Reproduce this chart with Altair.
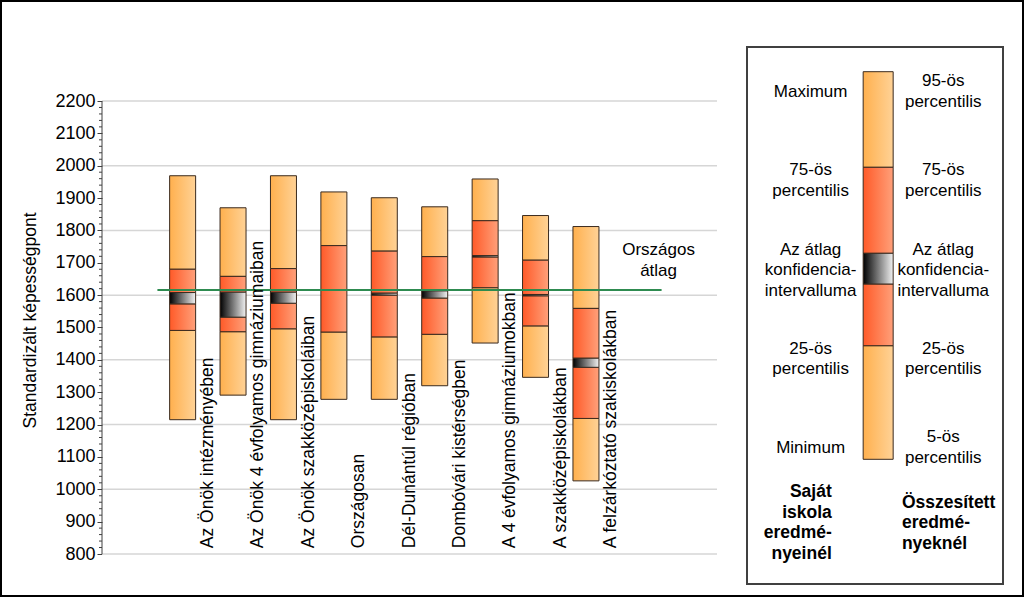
import altair as alt
import pandas as pd

# ---------------- data ----------------
categories = [
    "Az Önök intézményében",
    "Az Önök 4 évfolyamos gimnáziumaiban",
    "Az Önök szakközépiskoláiban",
    "Országosan",
    "Dél-Dunántúl régióban",
    "Dombóvári kistérségben",
    "A 4 évfolyamos gimnáziumokban",
    "A szakközépiskolákban",
    "A felzárkóztató szakiskolákban",
]
mins = [1215, 1291, 1215, 1278, 1278, 1320, 1452, 1346, 1026]
p25s = [1491, 1487, 1496, 1486, 1471, 1479, 1623, 1505, 1219]
ci_lo = [1573, 1532, 1575, 1615, 1600, 1591, 1718, 1598, 1377]
ci_hi = [1608, 1609, 1609, 1617, 1606, 1613, 1722, 1602, 1405]
p75s = [1680, 1658, 1682, 1753, 1736, 1719, 1830, 1708, 1559]
maxs = [1969, 1870, 1969, 1919, 1901, 1873, 1959, 1846, 1812]
national_avg = 1616
avg_label = "Országos\nátlag"

y_title = "Standardizált képességpont"
y_label_values = list(range(800, 2201, 100))
y_grid_values = list(range(800, 2201, 200))
y_minor_values = [v for v in range(800, 2201, 20) if v % 100]

# legend content
legend_kinds = ["light", "dark", "ci", "dark", "light"]
legend_edges = [24.7, 120.3, 206.3, 237.0, 298.7, 412.3]
legend_left_texts = ["Maximum", "75-ös\npercentilis", "Az átlag\nkonfidencia-\nintervalluma",
                     "25-ös\npercentilis", "Minimum"]
legend_right_texts = ["95-ös\npercentilis", "75-ös\npercentilis", "Az átlag\nkonfidencia-\nintervalluma",
                      "25-ös\npercentilis", "5-ös\npercentilis"]
legend_text_rows = [44.7, 133.7, 223.0, 312.0, 400.5]
legend_bold_left = "Saját\niskola\neredmé-\nnyeinél"
legend_bold_right = "Összesített\neredmé-\nnyeknél"

FONT = "Liberation Sans"
LINE_H = 20.5
LINE_H_BOLD = 20.7


def first_line_row(text, center, lh):
    # Vega anchors a multi-line block at its first line; shift so the block is centred
    return center - (text.count("\n")) * lh / 2


# ---------------- tables ----------------
rows = []
for i, c in enumerate(categories):
    pos = i + 1.5
    bounds = [mins[i], p25s[i], ci_lo[i], ci_hi[i], p75s[i], maxs[i]]
    kinds = ["light", "dark", "ci", "dark", "light"]
    for k in range(5):
        rows.append({"cat": c, "pos": pos, "lo": bounds[k], "hi": bounds[k + 1], "kind": kinds[k]})
seg = pd.DataFrame(rows)
cat_df = pd.DataFrame({"cat": categories, "lpos": [i + 2 for i in range(len(categories))]})
avg_df = pd.DataFrame({"avg": [national_avg], "label": [avg_label]})
minor_df = pd.DataFrame({"v": y_minor_values})
grid_df = pd.DataFrame({"g": y_grid_values})


def grad(c0, c1):
    return alt.LinearGradient(
        gradient="linear", x1=0, x2=1, y1=0, y2=0,
        stops=[alt.GradientStop(color=c0, offset=0), alt.GradientStop(color=c1, offset=1)],
    )


fills = {
    "light": grad("#FFB04E", "#FFD296"),
    "dark": grad("#FF5A28", "#FFA07A"),
    "ci": grad("#000000", "#F2F2F2"),
}
STROKE = "#3A2A1E"

# ---------------- main chart ----------------
W, H = 615, 507
px_per_unit = 453 / 1400
y_top = 2200 + 54 / px_per_unit
yscale = alt.Scale(domain=[800, y_top], nice=False, zero=False)
xscale = alt.Scale(domain=[0, 12], nice=False, zero=False)

yaxis = alt.Axis(
    values=y_label_values, title=y_title, format="d",
    grid=False, domain=False, ticks=True, tickSize=5, tickColor="#404040", tickWidth=1,
    labelFontSize=18, labelColor="#000000", labelPadding=2, labelFont=FONT, labelOverlap=False,
    titleFontSize=17.5, titleFontWeight="normal", titleColor="#000000", titleFont=FONT,
    titleX=-72, titleY=273, titleAngle=270, titleAlign="center", titleBaseline="middle",
)

grid = alt.Chart(grid_df).mark_rule(color="#D6D6D6", strokeWidth=1.5).encode(
    y=alt.Y("g:Q", scale=yscale, axis=yaxis),
    x=alt.value(0), x2=alt.value(W),
)

base = alt.Chart(seg)


def seg_layer(kind):
    return base.transform_filter(alt.datum.kind == kind).mark_bar(
        size=26, fill=fills[kind], stroke=STROKE, strokeWidth=1
    ).encode(
        x=alt.X("pos:Q", scale=xscale, axis=None),
        y=alt.Y("lo:Q", scale=yscale, axis=yaxis),
        y2="hi:Q",
    )


minor_ticks = alt.Chart(minor_df).mark_rule(color="#404040", strokeWidth=1).encode(
    y=alt.Y("v:Q", scale=yscale, axis=yaxis),
    x=alt.value(-3), x2=alt.value(0),
)
domain_line = alt.Chart(avg_df).mark_rule(color="#404040", strokeWidth=1).encode(
    x=alt.value(0), y=alt.YDatum(800, axis=yaxis), y2=alt.Y2Datum(2200),
)
avg_line = alt.Chart(avg_df).mark_rule(color="#2E8B50", strokeWidth=2).encode(
    y=alt.Y("avg:Q", scale=yscale, axis=yaxis),
    x=alt.XDatum(1, axis=None), x2=alt.X2Datum(11),
)
avg_text = alt.Chart(avg_df).mark_text(
    font=FONT, fontSize=17, color="#000000", align="center", baseline="middle",
    lineBreak="\n", lineHeight=21, dx=-3, dy=-29 - avg_label.count("\n") * 21 / 2,
).encode(
    x=alt.XDatum(11, axis=None), y=alt.Y("avg:Q", scale=yscale, axis=yaxis), text="label:N",
)
cat_labels = alt.Chart(cat_df).mark_text(
    font=FONT, fontSize=17.5, color="#000000", angle=270, align="left", baseline="middle",
).encode(
    x=alt.X("lpos:Q", scale=xscale, axis=None), y=alt.YDatum(818, axis=yaxis), text="cat:N",
)
frame = alt.Chart(avg_df).mark_rect(filled=False, stroke="#000000", strokeWidth=2).encode(
    x=alt.value(-101), x2=alt.value(921), y=alt.value(-46), y2=alt.value(549),
)

main = alt.layer(
    grid, seg_layer("light"), seg_layer("dark"), seg_layer("ci"),
    minor_ticks, domain_line, avg_line, avg_text, cat_labels, frame,
).properties(width=W, height=H)

# ---------------- legend ----------------
LW, LH = 256, 537
lx = alt.Scale(domain=[0, LW], nice=False, zero=False)
ly = alt.Scale(domain=[0, LH], nice=False, zero=False, reverse=True)

leg_seg = pd.DataFrame({
    "kind": legend_kinds,
    "lo": legend_edges[:-1],
    "hi": legend_edges[1:],
    "col": [131.3] * len(legend_kinds),
})
leg_base = alt.Chart(leg_seg)


def leg_layer(kind):
    return leg_base.transform_filter(alt.datum.kind == kind).mark_bar(
        size=30, fill=fills[kind], stroke=STROKE, strokeWidth=1
    ).encode(
        x=alt.X("col:Q", scale=lx, axis=None),
        y=alt.Y("lo:Q", scale=ly, axis=None),
        y2="hi:Q",
    )


all_texts = legend_left_texts + legend_right_texts
all_rows = legend_text_rows + legend_text_rows
leg_txt = pd.DataFrame({
    "text": all_texts,
    "row": [first_line_row(t, r, LINE_H) for t, r in zip(all_texts, all_rows)],
    "col": [61] * len(legend_left_texts) + [199] * len(legend_right_texts),
})
leg_text = alt.Chart(leg_txt).mark_text(
    font=FONT, fontSize=17, color="#000000", align="center", baseline="middle",
    lineBreak="\n", lineHeight=LINE_H,
).encode(
    x=alt.X("col:Q", scale=lx, axis=None), y=alt.Y("row:Q", scale=ly, axis=None), text="text:N",
)
bold_l = alt.Chart(pd.DataFrame({
    "text": [legend_bold_left],
    "row": [first_line_row(legend_bold_left, 476.0, LINE_H_BOLD)],
    "col": [83],
})).mark_text(
    font=FONT, fontSize=17.5, fontWeight="bold", color="#000000", align="right", baseline="middle",
    lineBreak="\n", lineHeight=LINE_H_BOLD,
).encode(
    x=alt.X("col:Q", scale=lx, axis=None), y=alt.Y("row:Q", scale=ly, axis=None), text="text:N",
)
bold_r = alt.Chart(pd.DataFrame({
    "text": [legend_bold_right],
    "row": [first_line_row(legend_bold_right, 476.5, LINE_H_BOLD)],
    "col": [156],
})).mark_text(
    font=FONT, fontSize=17.5, fontWeight="bold", color="#000000", align="left", baseline="middle",
    lineBreak="\n", lineHeight=LINE_H_BOLD,
).encode(
    x=alt.X("col:Q", scale=lx, axis=None), y=alt.Y("row:Q", scale=ly, axis=None), text="text:N",
)

legend = alt.layer(
    leg_layer("light"), leg_layer("dark"), leg_layer("ci"), leg_text, bold_l, bold_r,
).properties(width=LW, height=LH, view=alt.ViewBackground(stroke="#404040", strokeWidth=2))

chart = alt.hconcat(main, legend, spacing=30, bounds="flush").properties(
    padding=0, background="#FFFFFF"
).configure(font=FONT).configure_view(strokeWidth=0)

chart.save("out.html", embed_options={"renderer": "svg", "actions": False})
